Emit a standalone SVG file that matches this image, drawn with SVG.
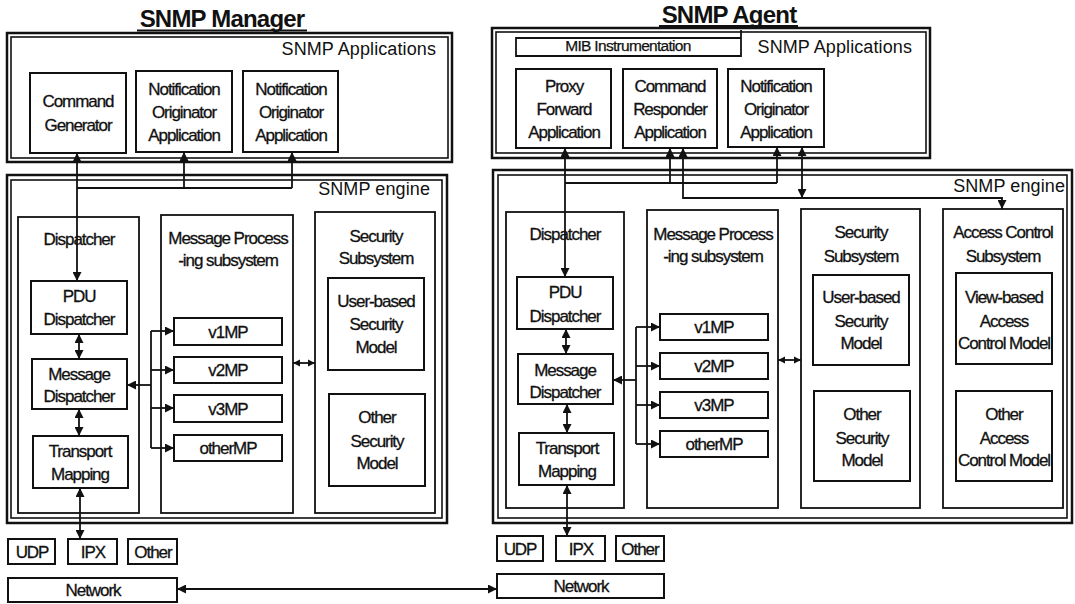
<svg xmlns="http://www.w3.org/2000/svg" width="1075" height="604" viewBox="0 0 1075 604">
  <defs>
    <style>
      .bg { fill: #ffffff; }
      .o { fill: none; stroke: #111; stroke-width: 2.5; }
      .i { fill: none; stroke: #111; stroke-width: 1.6; }
      .b { fill: #fff; stroke: #111; stroke-width: 2; }
      .s { fill: none; stroke: #111; stroke-width: 1.8; }
      .t { font-family: "Liberation Sans", Arial, sans-serif; font-size: 17px; letter-spacing: -1.05px; text-anchor: middle; fill: #111; stroke: #111; stroke-width: 0.3; }
      .m { font-family: "Liberation Sans", Arial, sans-serif; font-size: 15.5px; letter-spacing: -0.7px; text-anchor: middle; fill: #111; stroke: #111; stroke-width: 0.25; }
      .lab { font-family: "Liberation Sans", Arial, sans-serif; font-size: 18px; letter-spacing: 0.1px; text-anchor: end; fill: #111; }
      .title { font-family: "Liberation Sans", Arial, sans-serif; font-size: 24px; font-weight: bold; letter-spacing: -0.8px; text-anchor: middle; fill: #111; }
      .c { fill: none; stroke: #111; stroke-width: 1.8; }
      .ul { stroke: #111; stroke-width: 1.8; }
    </style>
    <marker id="ah" viewBox="0 0 10 10" refX="10" refY="5" markerWidth="9" markerHeight="9" markerUnits="userSpaceOnUse" orient="auto-start-reverse">
      <path d="M0,0 L10,5 L0,10 z" fill="#111"/>
    </marker>
    <marker id="ahs" viewBox="0 0 10 10" refX="10" refY="5" markerWidth="7" markerHeight="8" markerUnits="userSpaceOnUse" orient="auto-start-reverse">
      <path d="M0,0 L10,5 L0,10 z" fill="#111"/>
    </marker>
  </defs>

  <rect class="bg" x="0" y="0" width="1075" height="604"/>

  <!-- ===== Manager side ===== -->
  <g id="manager-title">
    <text class="title" x="222" y="27">SNMP Manager</text>
    <line class="ul" x1="137" y1="30.5" x2="307" y2="30.5"/>
  </g>

  <g id="manager-apps">
    <rect class="o" x="7" y="33" width="445" height="129"/>
    <rect class="i" x="11" y="37" width="437" height="121"/>
    <text class="lab" x="436" y="55">SNMP Applications</text>
  </g>

  <g id="mgr-command-generator">
    <rect class="b" x="30" y="73" width="96" height="80"/>
    <text class="t" x="78" y="107">Command</text>
    <text class="t" x="78" y="131">Generator</text>
  </g>

  <g id="mgr-notification-1">
    <rect class="b" x="136" y="71" width="96" height="81"/>
    <text class="t" x="184" y="95">Notification</text>
    <text class="t" x="184" y="118">Originator</text>
    <text class="t" x="184" y="141">Application</text>
  </g>

  <g id="mgr-notification-2">
    <rect class="b" x="243" y="71" width="95" height="81"/>
    <text class="t" x="291" y="95">Notification</text>
    <text class="t" x="291" y="118">Originator</text>
    <text class="t" x="291" y="141">Application</text>
  </g>

  <g id="manager-engine">
    <rect class="o" x="7" y="175" width="440" height="348"/>
    <rect class="i" x="11" y="180" width="431" height="338"/>
    <text class="lab" x="430" y="195">SNMP engine</text>
  </g>

  <g id="mgr-dispatcher">
    <rect class="s" x="18" y="217" width="121" height="296"/>
    <text class="t" x="79" y="245">Dispatcher</text>
  </g>

  <g id="mgr-pdu-dispatcher">
    <rect class="b" x="31" y="281" width="96" height="53"/>
    <text class="t" x="79" y="302">PDU</text>
    <text class="t" x="79" y="325">Dispatcher</text>
  </g>

  <g id="mgr-message-dispatcher">
    <rect class="b" x="32" y="359" width="95" height="50"/>
    <text class="t" x="79" y="380">Message</text>
    <text class="t" x="79" y="402">Dispatcher</text>
  </g>

  <g id="mgr-transport-mapping">
    <rect class="b" x="33" y="436" width="95" height="52"/>
    <text class="t" x="80" y="457">Transport</text>
    <text class="t" x="80" y="480">Mapping</text>
  </g>

  <g id="mgr-message-processing">
    <rect class="s" x="161" y="215" width="132" height="298"/>
    <text class="t" x="228" y="244">Message Process</text>
    <text class="t" x="228" y="266">-ing subsystem</text>
  </g>

  <g id="mgr-v1mp">
    <rect class="b" x="174" y="318" width="108" height="27"/>
    <text class="t" x="228" y="338">v1MP</text>
  </g>
  <g id="mgr-v2mp">
    <rect class="b" x="174" y="357" width="108" height="26"/>
    <text class="t" x="228" y="376">v2MP</text>
  </g>
  <g id="mgr-v3mp">
    <rect class="b" x="174" y="395" width="108" height="27"/>
    <text class="t" x="228" y="415">v3MP</text>
  </g>
  <g id="mgr-othermp">
    <rect class="b" x="174" y="435" width="108" height="26"/>
    <text class="t" x="228" y="454">otherMP</text>
  </g>

  <g id="mgr-security">
    <rect class="s" x="315" y="212" width="120" height="301"/>
    <text class="t" x="376" y="242">Security</text>
    <text class="t" x="376" y="264">Subsystem</text>
  </g>

  <g id="mgr-user-based-security">
    <rect class="b" x="328" y="278" width="96" height="92"/>
    <text class="t" x="376" y="307">User-based</text>
    <text class="t" x="376" y="330">Security</text>
    <text class="t" x="376" y="353">Model</text>
  </g>

  <g id="mgr-other-security">
    <rect class="b" x="329" y="394" width="96" height="92"/>
    <text class="t" x="377" y="423">Other</text>
    <text class="t" x="377" y="447">Security</text>
    <text class="t" x="377" y="469">Model</text>
  </g>

  <g id="mgr-udp">
    <rect class="b" x="8" y="539" width="47" height="25"/>
    <text class="t" x="32" y="558">UDP</text>
  </g>
  <g id="mgr-ipx">
    <rect class="b" x="68" y="539" width="49" height="25"/>
    <text class="t" x="93" y="558">IPX</text>
  </g>
  <g id="mgr-other">
    <rect class="b" x="128" y="539" width="49" height="25"/>
    <text class="t" x="153" y="558">Other</text>
  </g>
  <g id="mgr-network">
    <rect class="b" x="8" y="578" width="169" height="24"/>
    <text class="t" x="93" y="596">Network</text>
  </g>

  <!-- ===== Agent side ===== -->
  <g id="agent-title">
    <text class="title" x="729" y="23">SNMP Agent</text>
    <line class="ul" x1="659" y1="26" x2="798" y2="26"/>
  </g>

  <g id="agent-apps">
    <rect class="o" x="492" y="28" width="438" height="130"/>
    <rect class="i" x="496" y="32" width="430" height="121"/>
    <text class="lab" x="912" y="53">SNMP Applications</text>
  </g>

  <g id="agent-mib-instrumentation">
    <path class="s" d="M516,56 V38 H741 V56 Z M741,38 V30"/>
    <text class="m" x="628" y="51">MIB Instrumentation</text>
  </g>

  <g id="agent-proxy-forward">
    <rect class="b" x="516" y="69" width="95" height="79"/>
    <text class="t" x="564" y="92">Proxy</text>
    <text class="t" x="564" y="115">Forward</text>
    <text class="t" x="564" y="138">Application</text>
  </g>

  <g id="agent-command-responder">
    <rect class="b" x="623" y="69" width="94" height="79"/>
    <text class="t" x="670" y="92">Command</text>
    <text class="t" x="670" y="115">Responder</text>
    <text class="t" x="670" y="138">Application</text>
  </g>

  <g id="agent-notification">
    <rect class="b" x="728" y="69" width="96" height="78"/>
    <text class="t" x="776" y="92">Notification</text>
    <text class="t" x="776" y="115">Originator</text>
    <text class="t" x="776" y="138">Application</text>
  </g>

  <g id="agent-engine">
    <rect class="o" x="493" y="170" width="579" height="353"/>
    <rect class="i" x="498" y="175" width="569" height="343"/>
    <text class="lab" x="1065" y="192">SNMP engine</text>
  </g>

  <g id="agent-dispatcher">
    <rect class="s" x="506" y="212" width="118" height="296"/>
    <text class="t" x="565" y="240">Dispatcher</text>
  </g>

  <g id="agent-pdu-dispatcher">
    <rect class="b" x="517" y="277" width="96" height="52"/>
    <text class="t" x="565" y="298">PDU</text>
    <text class="t" x="565" y="322">Dispatcher</text>
  </g>

  <g id="agent-message-dispatcher">
    <rect class="b" x="518" y="354" width="95" height="50"/>
    <text class="t" x="565" y="376">Message</text>
    <text class="t" x="565" y="398">Dispatcher</text>
  </g>

  <g id="agent-transport-mapping">
    <rect class="b" x="519" y="433" width="95" height="52"/>
    <text class="t" x="567" y="454">Transport</text>
    <text class="t" x="567" y="477">Mapping</text>
  </g>

  <g id="agent-message-processing">
    <rect class="s" x="647" y="210" width="131" height="298"/>
    <text class="t" x="713" y="240">Message Process</text>
    <text class="t" x="713" y="262">-ing subsystem</text>
  </g>

  <g id="agent-v1mp">
    <rect class="b" x="660" y="314" width="108" height="26"/>
    <text class="t" x="714" y="333">v1MP</text>
  </g>
  <g id="agent-v2mp">
    <rect class="b" x="660" y="353" width="108" height="26"/>
    <text class="t" x="714" y="372">v2MP</text>
  </g>
  <g id="agent-v3mp">
    <rect class="b" x="660" y="392" width="108" height="26"/>
    <text class="t" x="714" y="411">v3MP</text>
  </g>
  <g id="agent-othermp">
    <rect class="b" x="660" y="431" width="108" height="26"/>
    <text class="t" x="714" y="450">otherMP</text>
  </g>

  <g id="agent-security">
    <rect class="s" x="801" y="209" width="119" height="299"/>
    <text class="t" x="861" y="238">Security</text>
    <text class="t" x="861" y="262">Subsystem</text>
  </g>

  <g id="agent-user-based-security">
    <rect class="b" x="813" y="275" width="96" height="90"/>
    <text class="t" x="861" y="303">User-based</text>
    <text class="t" x="861" y="327">Security</text>
    <text class="t" x="861" y="349">Model</text>
  </g>

  <g id="agent-other-security">
    <rect class="b" x="814" y="391" width="96" height="90"/>
    <text class="t" x="862" y="420">Other</text>
    <text class="t" x="862" y="444">Security</text>
    <text class="t" x="862" y="466">Model</text>
  </g>

  <g id="agent-access-control">
    <rect class="s" x="943" y="209" width="120" height="299"/>
    <text class="t" x="1003" y="238">Access Control</text>
    <text class="t" x="1003" y="262">Subsystem</text>
  </g>

  <g id="agent-view-based-access">
    <rect class="b" x="956" y="273" width="96" height="91"/>
    <text class="t" x="1004" y="303">View-based</text>
    <text class="t" x="1004" y="327">Access</text>
    <text class="t" x="1004" y="349">Control Model</text>
  </g>

  <g id="agent-other-access">
    <rect class="b" x="956" y="391" width="96" height="90"/>
    <text class="t" x="1004" y="420">Other</text>
    <text class="t" x="1004" y="444">Access</text>
    <text class="t" x="1004" y="466">Control Model</text>
  </g>

  <g id="agent-udp">
    <rect class="b" x="497" y="536" width="46" height="25"/>
    <text class="t" x="520" y="555">UDP</text>
  </g>
  <g id="agent-ipx">
    <rect class="b" x="556" y="536" width="49" height="25"/>
    <text class="t" x="581" y="555">IPX</text>
  </g>
  <g id="agent-other">
    <rect class="b" x="616" y="536" width="48" height="25"/>
    <text class="t" x="640" y="555">Other</text>
  </g>
  <g id="agent-network">
    <rect class="b" x="497" y="574" width="167" height="24"/>
    <text class="t" x="581" y="592">Network</text>
  </g>

  <!-- ===== Connectors ===== -->
  <g id="connectors">
    <!-- manager: applications to engine -->
    <path class="c" d="M77,153 V281" marker-start="url(#ah)" marker-end="url(#ah)"/>
    <path class="c" d="M77,188 H292"/>
    <path class="c" d="M184,188 V152" marker-end="url(#ah)"/>
    <path class="c" d="M292,188 V152" marker-end="url(#ah)"/>
    <!-- manager: dispatcher chain -->
    <path class="c" d="M79,334 V359" marker-start="url(#ah)" marker-end="url(#ah)"/>
    <path class="c" d="M79,409 V436" marker-start="url(#ah)" marker-end="url(#ah)"/>
    <path class="c" d="M80,488 V539" marker-start="url(#ah)" marker-end="url(#ah)"/>
    <!-- manager: message dispatcher to MP models -->
    <path class="c" d="M151,385 H127" marker-end="url(#ah)"/>
    <path class="c" d="M151,331 V448"/>
    <path class="c" d="M151,331 H174" marker-end="url(#ah)"/>
    <path class="c" d="M151,370 H174" marker-end="url(#ah)"/>
    <path class="c" d="M151,408 H174" marker-end="url(#ah)"/>
    <path class="c" d="M151,448 H174" marker-end="url(#ah)"/>
    <!-- manager: MP to security -->
    <path class="c" d="M293,363 H315" marker-start="url(#ahs)" marker-end="url(#ahs)"/>

    <!-- agent: applications to engine -->
    <path class="c" d="M565,148 V277" marker-start="url(#ah)" marker-end="url(#ah)"/>
    <path class="c" d="M565,183 H777"/>
    <path class="c" d="M670,183 V148" marker-end="url(#ah)"/>
    <path class="c" d="M777,183 V147" marker-end="url(#ah)"/>
    <path class="c" d="M683,148 V198 H1002 V209" marker-start="url(#ah)" marker-end="url(#ah)"/>
    <path class="c" d="M802,147 V198" marker-start="url(#ah)" marker-end="url(#ah)"/>
    <!-- agent: dispatcher chain -->
    <path class="c" d="M566,329 V354" marker-start="url(#ah)" marker-end="url(#ah)"/>
    <path class="c" d="M567,404 V433" marker-start="url(#ah)" marker-end="url(#ah)"/>
    <path class="c" d="M567,485 V536" marker-start="url(#ah)" marker-end="url(#ah)"/>
    <!-- agent: message dispatcher to MP models -->
    <path class="c" d="M636,380 H613" marker-end="url(#ah)"/>
    <path class="c" d="M636,327 V444"/>
    <path class="c" d="M636,327 H660" marker-end="url(#ah)"/>
    <path class="c" d="M636,366 H660" marker-end="url(#ah)"/>
    <path class="c" d="M636,405 H660" marker-end="url(#ah)"/>
    <path class="c" d="M636,444 H660" marker-end="url(#ah)"/>
    <!-- agent: MP to security -->
    <path class="c" d="M778,360 H801" marker-start="url(#ahs)" marker-end="url(#ahs)"/>

    <!-- network link between the two hosts -->
    <path class="c" d="M177,589 H497" marker-start="url(#ah)" marker-end="url(#ah)"/>
  </g>
</svg>
